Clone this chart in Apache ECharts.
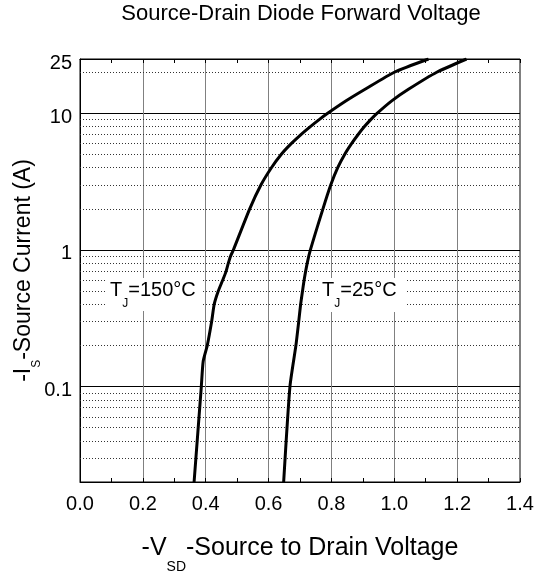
<!DOCTYPE html>
<html>
<head>
<meta charset="utf-8">
<script src="https://cdn.jsdelivr.net/npm/echarts@6/dist/echarts.min.js"></script>
<style>html,body{margin:0;padding:0;background:#fff}#c{width:536px;height:575px}</style>
</head>
<body>
<div id="c"></div>
<script>
// ---- data ----
const titleText = 'Source-Drain Diode Forward Voltage';
const xMin = 0, xMax = 1.4, xStep = 0.2;
const yMin = 0.02, yMax = 25;
const minorYLines = [0.03,0.04,0.05,0.06,0.07,0.08,0.09,0.2,0.3,0.4,0.5,0.6,0.7,0.8,0.9,2,3,4,5,6,7,8,9,20];

// Tj = 150 C curve: current (A) and voltage (V)
const i150 = [0.02,0.1,0.153,0.2,0.3,0.4,0.5,0.6,0.7,0.8,0.9,1,2,3,4,5,6,7,8,9,10,12.4,15,20,25];
const v150 = [0.363,0.386,0.392,0.405,0.419,0.427,0.440,0.454,0.465,0.472,0.479,0.488,0.540,0.576,0.609,0.640,0.672,0.703,0.733,0.761,0.788,0.848,0.907,1.000,1.109];

// Tj = 25 C curve
const i25 = [0.02,0.1,0.2,0.3,0.4,0.5,0.6,0.8,1,2,3,4,5,6,7,8,9,10,12.4,15,20,25];
const v25 = [0.648,0.668,0.687,0.696,0.702,0.708,0.713,0.723,0.733,0.773,0.798,0.820,0.842,0.864,0.885,0.905,0.925,0.945,0.993,1.045,1.135,1.230];

const label150 = '{m|T}{s|J}{m|=150°C}';
const label25 = '{m|T}{s|J}{m|=25°C}';

// ---- chart ----
const FONT = '"Liberation Sans", Arial, Helvetica, sans-serif';
const chart = echarts.init(document.getElementById('c'), null, {renderer: 'canvas'});
const pairs = (vs, is) => vs.map((v, k) => [v, is[k]]);
// main text sits at the top of the line box, subscript at its bottom
const subRich = (main, sub, lineH) => ({
  m: {fontSize: main, lineHeight: main, verticalAlign: 'top', color: '#000', fontFamily: FONT},
  s: {fontSize: sub, lineHeight: lineH, verticalAlign: 'bottom', color: '#000', fontFamily: FONT}
});

const option = {
  animation: false,
  backgroundColor: '#fff',
  title: {
    text: titleText, left: 301, top: 3, textAlign: 'center', padding: 0,
    textStyle: {fontSize: 22, fontWeight: 'normal', color: '#000', fontFamily: FONT}
  },
  grid: {
    left: 80, right: 16, top: 59, bottom: 93, containLabel: false, outerBoundsMode: 'none',
    show: true, borderColor: '#000', borderWidth: 1, backgroundColor: 'transparent'
  },
  xAxis: [{
    type: 'value', min: xMin, max: xMax, interval: xStep, position: 'bottom',
    name: '{m|-V}{s|SD}{m|-Source to Drain Voltage}',
    nameLocation: 'middle', nameGap: 54, nameMoveOverlap: false,
    nameTextStyle: {fontSize: 25, rich: subRich(25, 14, 38)},
    axisLine: {show: true, lineStyle: {color: '#000', width: 1}},
    axisTick: {show: true, inside: true, length: 4, lineStyle: {color: '#000'}},
    minorTick: {show: true, splitNumber: 2, length: 4, lineStyle: {color: '#000'}},
    axisLabel: {margin: 12, fontSize: 20, color: '#000', fontFamily: FONT, formatter: v => v.toFixed(1)},
    splitLine: {show: true, lineStyle: {color: '#808080', width: 1}}
  }, {
    type: 'value', min: xMin, max: xMax, interval: xStep, position: 'top',
    axisLine: {show: true, lineStyle: {color: '#000', width: 1}},
    axisTick: {show: true, inside: true, length: 4, lineStyle: {color: '#000'}},
    minorTick: {show: true, splitNumber: 2, length: 4, lineStyle: {color: '#000'}},
    axisLabel: {show: false},
    splitLine: {show: false}
  }],
  yAxis: {
    type: 'log', logBase: 10, min: yMin, max: yMax,
    name: '{m|-I}{s|S}{m|-Source Current (A)}',
    nameLocation: 'middle', nameGap: 37, nameMoveOverlap: false,
    nameTextStyle: {fontSize: 23, rich: subRich(23, 12, 31)},
    axisLine: {show: true, lineStyle: {color: '#000', width: 1}},
    axisTick: {show: false},
    axisLabel: {
      margin: 8, fontSize: 20, color: '#000', fontFamily: FONT,
      verticalAlign: 'top', lineHeight: 8,
      formatter: v => (v < 0.05 ? '' : String(+Number(v).toPrecision(2)))
    },
    splitLine: {show: true, lineStyle: {color: '#000', width: 1}}
  },
  series: [{
    name: 'Tj=150C', type: 'line', xAxisIndex: 0, data: pairs(v150, i150),
    symbol: 'none', smooth: 0.2, lineStyle: {color: '#000', width: 3}, z: 5,
    markLine: {
      silent: true, symbol: 'none', label: {show: false}, animation: false,
      lineStyle: {type: [1, 2], color: '#333', width: 1},
      data: minorYLines.map(v => ({yAxis: v}))
    }
  }, {
    name: 'Tj=25C', type: 'line', xAxisIndex: 0, data: pairs(v25, i25),
    symbol: 'none', smooth: 0.2, lineStyle: {color: '#000', width: 3}, z: 5
  }],
  graphic: [
    {type: 'rect', z: 100, shape: {x: 105, y: 278, width: 98, height: 33}, style: {fill: '#fff'}},
    {type: 'rect', z: 100, shape: {x: 320, y: 278, width: 87, height: 34}, style: {fill: '#fff'}},
    {type: 'text', z: 101, x: 110, y: 280, style: {text: label150, rich: subRich(20, 12, 30)}},
    {type: 'text', z: 101, x: 322, y: 280, style: {text: label25, rich: subRich(20, 12, 30)}}
  ]
};
chart.setOption(option);
</script>
</body>
</html>
